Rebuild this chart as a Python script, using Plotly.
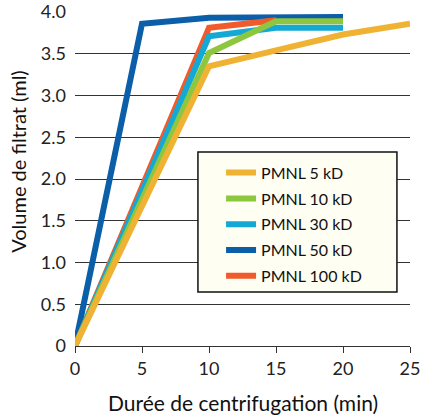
import plotly.graph_objects as go

series_names = ["PMNL 5 kD", "PMNL 10 kD", "PMNL 30 kD", "PMNL 50 kD", "PMNL 100 kD"]
colors = ["#EFB232", "#8DC63F", "#14A9D4", "#0B5EA8", "#F15A2B"]

x_5 = [0, 10, 15, 20, 25]
y_5 = [0, 3.35, 3.54, 3.73, 3.86]
x_10 = [0, 10, 15, 20]
y_10 = [0, 3.51, 3.89, 3.89]
x_30 = [0, 10, 15, 20]
y_30 = [0, 3.71, 3.81, 3.81]
x_50 = [0, 5, 10, 15, 20]
y_50 = [0, 3.86, 3.93, 3.94, 3.94]
x_100 = [0, 10, 15]
y_100 = [0, 3.81, 3.9]

xs = [x_5, x_10, x_30, x_50, x_100]
ys = [y_5, y_10, y_30, y_50, y_100]

y_tickvals = [0, 0.5, 1, 1.5, 2, 2.5, 3, 3.5, 4]
y_ticktext = ["0", "0.5", "1.0", "1.5", "2.0", "2.5", "3.0", "3.5", "4.0"]
x_tickvals = [0, 5, 10, 15, 20, 25]

x_title = "Durée de centrifugation (min)"
y_title = "Volume de filtrat (ml)"

FONT = "Lato"

fig = go.Figure()
# draw order: blue first, then red, cyan, green, orange on top
order = [3, 4, 2, 1, 0]
for i in order:
    fig.add_trace(go.Scatter(
        x=xs[i], y=ys[i], mode="lines", name=series_names[i],
        line=dict(color=colors[i], width=6), cliponaxis=False,
        legendrank=i + 1, legendgroup=series_names[i],
    ))

# legend box (cream background with dark border)
fig.add_shape(
    type="rect", xref="paper", yref="paper",
    x0=0.367, x1=0.961, y0=0.161, y1=0.579,
    fillcolor="#FFFEF3", line=dict(color="#111111", width=1.5), layer="above",
)

fig.update_layout(
    width=424, height=419,
    margin=dict(l=75, r=14, t=11, b=73, autoexpand=False),
    paper_bgcolor="white", plot_bgcolor="white",
    font=dict(family=FONT, color="#222222", size=18),
    showlegend=True,
    legend=dict(
        x=0.436, y=0.568, xanchor="left", yanchor="top",
        bgcolor="rgba(0,0,0,0)", borderwidth=0,
        font=dict(family=FONT, size=16, color="#111111"),
        traceorder="grouped", tracegroupgap=2,
    ),
    xaxis=dict(
        range=[0, 25], tickvals=x_tickvals, showgrid=False, automargin=False,
        showline=True, linecolor="#333333", linewidth=1.2,
        ticks="outside", ticklen=6, tickcolor="#333333",
        zeroline=False, ticklabeloverflow="allow",
    ),
    yaxis=dict(
        range=[0, 4.012], tickvals=y_tickvals, ticktext=y_ticktext, automargin=False,
        showgrid=True, gridcolor="#333333", gridwidth=1,
        showline=False, zeroline=False, ticks="",
        ticklabelstandoff=8, ticklabeloverflow="allow",
    ),
    annotations=[
        dict(text=x_title, x=0.5, y=-0.168, xref="paper", yref="paper",
             xanchor="center", yanchor="middle", showarrow=False,
             font=dict(size=21, family=FONT, color="#111111")),
        dict(text=y_title, x=-0.17, y=0.55, xref="paper", yref="paper",
             xanchor="center", yanchor="middle", showarrow=False, textangle=-90,
             font=dict(size=20, family=FONT, color="#111111")),
    ],
)

fig.write_html("out.html", config={"displayModeBar": False},
               post_script="document.body.style.margin='0';")
